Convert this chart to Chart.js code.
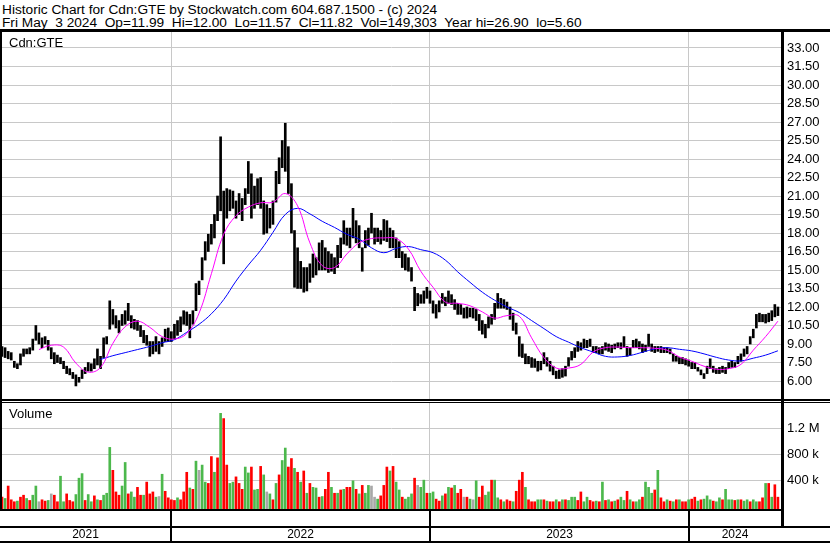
<!DOCTYPE html>
<html>
<head>
<meta charset="utf-8">
<script src="https://cdn.jsdelivr.net/npm/chart.js@4.4.1/dist/chart.umd.min.js"></script>
<style>
  body { margin: 0; background: #fff; font-family: "Liberation Sans", Arial, sans-serif; color: #000; }
  #wrap { position: relative; width: 830px; height: 543px; overflow: hidden; }
  .hdr { position: absolute; left: 2px; font-size: 13.7px; line-height: 13px; white-space: pre; }
  .ln { position: absolute; background: #000; }
  canvas { position: absolute; left: 0; }
  .lbl { position: absolute; left: 9px; font-size: 13px; line-height: 13px; }
  .yr { position: absolute; top: 528px; font-size: 12px; line-height: 13px; text-align: center; }
</style>
</head>
<body>
<div id="wrap">
  <div class="hdr" id="h1" style="top:3px"></div>
  <div class="hdr" id="h2" style="top:16px"></div>
  <canvas id="price" width="830" height="367" style="top:32px"></canvas>
  <canvas id="vol" width="830" height="106" style="top:403px"></canvas>
  <div class="lbl" id="sym" style="top:36px"></div>
  <div class="lbl" style="top:407px">Volume</div>
  <div class="ln" style="left:0;top:29px;width:830px;height:3px"></div>
  <div class="ln" style="left:0;top:32px;width:2px;height:478px"></div>
  <div class="ln" style="left:781px;top:32px;width:3px;height:496px"></div>
  <div class="ln" style="left:0;top:399px;width:830px;height:2px"></div>
  <div class="ln" style="left:0;top:402px;width:830px;height:1px"></div>
  <div class="ln" style="left:0;top:509px;width:781px;height:2px"></div>
  <div class="ln" style="left:0;top:526px;width:830px;height:2px"></div>
  <div class="ln" style="left:0;top:541px;width:830px;height:2px"></div>
  <div id="years"></div>
</div>
<script>
const symbol = 'Cdn:GTE';
const title1 = 'Historic Chart for Cdn:GTE by Stockwatch.com 604.687.1500 - (c) 2024';
const title2 = 'Fri May  3 2024  Op=11.99  Hi=12.00  Lo=11.57  Cl=11.82  Vol=149,303  Year hi=26.90  lo=5.60';

// one sample every 3 trading days, trading day 0 = early May 2021
const step = 3;
const priceHigh = [
  8.8, 8.7, 8.4, 8.3, 7.6, 7.4, 8.2, 8.6, 8.6, 8.7,
  9.4, 10.5, 9.9, 9.5, 9.6, 9.3, 8.7, 8.3, 8.1, 7.9,
  7.6, 7.2, 7.0, 6.7, 6.5, 6.3, 6.9, 7.1, 7.5, 7.4,
  7.8, 8.6, 8.0, 9.5, 9.6, 12.5, 11.8, 11.3, 10.9, 11.4,
  11.7, 12.3, 11.3, 11.0, 10.9, 10.5, 10.1, 9.7, 9.2, 9.2,
  9.6, 9.2, 9.5, 10.2, 10.3, 10.0, 10.6, 10.9, 11.2, 11.7,
  11.6, 11.4, 11.7, 13.9, 14.1, 16.0, 17.3, 17.9, 18.7, 19.5,
  21.0, 25.8, 21.4, 21.6, 21.5, 21.4, 20.6, 21.2, 20.8, 21.6,
  23.8, 22.8, 21.8, 22.4, 22.5, 20.6, 20.3, 20.0, 20.6, 23.0,
  24.1, 25.5, 26.9, 25.0, 22.0, 18.2, 16.8, 15.7, 15.2, 15.2,
  15.5, 16.3, 16.0, 17.2, 17.4, 16.8, 16.5, 16.3, 16.0, 17.0,
  17.6, 19.0, 18.4, 18.4, 20.0, 19.0, 18.6, 16.8, 18.2, 18.4,
  19.6, 18.4, 18.4, 18.2, 19.1, 19.0, 18.4, 18.2, 17.6, 17.3,
  16.5, 16.3, 16.0, 15.2, 13.6, 13.1, 13.0, 13.3, 13.6, 13.3,
  12.5, 12.2, 12.5, 13.1, 12.8, 13.3, 13.0, 12.6, 12.3, 12.2,
  11.9, 12.0, 11.9, 11.9, 11.8, 11.4, 10.9, 10.6, 11.2, 11.4,
  12.3, 13.1, 12.7, 12.6, 12.4, 12.0, 11.5, 10.7, 9.6, 9.0,
  8.2, 8.0, 7.9, 7.8, 7.6, 7.6, 8.3, 7.9, 7.6, 7.2,
  6.8, 6.9, 7.0, 7.2, 7.9, 8.4, 8.7, 9.2, 9.1, 9.4,
  9.3, 9.4, 8.8, 8.8, 8.7, 8.8, 9.1, 9.0, 8.9, 9.0,
  9.1, 9.1, 9.6, 8.8, 8.7, 9.3, 9.4, 9.2, 9.0, 8.9,
  9.8, 9.0, 8.8, 8.8, 8.8, 8.7, 8.7, 8.6, 8.2, 8.0,
  7.9, 7.9, 7.8, 7.7, 7.5, 7.5, 7.1, 6.9, 6.6, 7.2,
  7.8, 7.2, 7.0, 7.1, 7.2, 7.1, 7.5, 7.6, 7.5, 8.0,
  8.2, 8.6, 8.8, 9.6, 10.2, 11.4, 11.5, 11.4, 11.4, 11.5,
  11.7, 12.2, 12.0
];
const priceLow = [
  8.0, 7.9, 7.8, 7.7, 7.1, 7.0, 7.3, 8.0, 8.2, 8.2,
  8.5, 9.3, 9.0, 8.7, 9.0, 8.5, 7.8, 7.4, 7.5, 7.4,
  7.0, 6.6, 6.5, 6.2, 5.6, 5.9, 6.2, 6.6, 6.8, 6.8,
  7.0, 7.3, 7.0, 7.9, 9.0, 10.2, 10.6, 10.3, 9.9, 10.5,
  10.6, 10.9, 10.3, 10.2, 10.1, 9.6, 9.1, 8.9, 8.0, 8.2,
  8.4, 8.2, 8.8, 9.2, 9.2, 9.2, 9.4, 9.7, 10.0, 10.6,
  10.5, 9.5, 10.6, 11.7, 13.0, 14.2, 15.8, 16.5, 17.1, 17.6,
  19.0, 19.8, 15.5, 19.2, 19.8, 20.0, 19.2, 19.5, 19.0, 20.3,
  21.2, 19.2, 20.0, 20.3, 20.0, 17.9, 18.0, 18.4, 18.7, 20.5,
  22.0, 23.3, 23.0, 21.2, 18.0, 13.6, 13.5, 13.5, 13.2, 13.3,
  14.0, 14.4, 14.6, 15.0, 15.0, 15.0, 14.8, 14.9, 14.7, 15.2,
  16.0, 17.1, 17.0, 16.8, 17.6, 17.2, 16.8, 14.9, 16.8, 17.0,
  18.0, 17.1, 17.3, 17.1, 17.4, 17.3, 16.8, 16.8, 16.0, 16.0,
  15.2, 15.0, 14.9, 14.1, 11.7, 12.1, 12.3, 12.3, 12.7, 12.3,
  11.5, 11.1, 11.6, 12.3, 12.1, 12.3, 12.2, 11.8, 11.4, 11.4,
  11.1, 11.1, 11.2, 11.1, 10.9, 10.1, 9.8, 9.5, 10.3, 10.6,
  11.0, 11.9, 11.9, 11.9, 11.8, 11.0, 10.1, 9.8, 8.0, 7.9,
  7.4, 7.4, 7.1, 7.1, 6.8, 6.9, 7.4, 7.2, 6.8, 6.5,
  6.2, 6.2, 6.3, 6.4, 7.2, 7.7, 7.9, 8.4, 8.5, 8.7,
  8.7, 8.8, 8.3, 8.3, 8.2, 8.2, 8.5, 8.4, 8.3, 8.6,
  8.7, 8.6, 8.7, 8.0, 8.1, 8.7, 8.7, 8.6, 8.3, 8.4,
  8.8, 8.4, 8.3, 8.4, 8.3, 8.3, 8.3, 8.2, 7.6, 7.6,
  7.4, 7.4, 7.3, 7.2, 7.0, 7.0, 6.8, 6.5, 6.2, 6.6,
  7.0, 6.7, 6.6, 6.6, 6.7, 6.6, 7.0, 7.1, 7.1, 7.4,
  7.6, 8.0, 8.2, 9.0, 9.5, 10.3, 10.8, 10.8, 10.7, 10.8,
  10.9, 11.2, 11.3
];
// volume in thousands of shares, with day direction (r = down, g = up, n = unchanged)
const volume = [
  150, 130, 320, 110, 80, 90, 150, 180, 130, 100,
  180, 320, 80, 110, 90, 100, 200, 180, 80, 470,
  80, 200, 100, 80, 190, 440, 510, 100, 190, 80,
  170, 110, 100, 180, 210, 910, 560, 230, 180, 320,
  680, 200, 230, 150, 300, 180, 180, 380, 200, 230,
  150, 160, 500, 240, 140, 110, 100, 140, 110, 230,
  530, 290, 270, 700, 560, 640, 380, 360, 770, 530,
  750, 1430, 1350, 640, 360, 380, 460, 360, 270, 610,
  520, 610, 260, 270, 620, 490, 230, 200, 110, 360,
  490, 710, 900, 610, 740, 590, 530, 380, 550, 210,
  360, 300, 290, 150, 160, 270, 530, 300, 210, 210,
  260, 270, 300, 300, 400, 270, 200, 330, 210, 330,
  320, 150, 120, 170, 330, 610, 550, 620, 380, 260,
  150, 120, 150, 200, 440, 330, 300, 410, 210, 210,
  230, 120, 90, 170, 200, 300, 290, 330, 210, 270,
  150, 150, 120, 110, 400, 150, 320, 180, 230, 410,
  410, 140, 110, 80, 110, 90, 80, 240, 410, 530,
  300, 110, 80, 80, 110, 110, 110, 90, 80, 80,
  110, 80, 110, 110, 100, 150, 150, 100, 230, 80,
  150, 100, 80, 90, 80, 380, 100, 110, 80, 90,
  110, 150, 100, 240, 110, 80, 80, 110, 150, 380,
  300, 210, 260, 560, 140, 80, 110, 90, 80, 110,
  110, 80, 80, 110, 120, 150, 90, 110, 120, 170,
  110, 90, 80, 140, 110, 270, 110, 110, 100, 110,
  110, 90, 110, 80, 110, 80, 80, 140, 360, 360,
  150, 340, 150
];
const volDir =
  'rgrrrgrrgr' + 'ggnrrgnrrg' + 'grrrgggrgg' + 'rgrgggrrrg' + 'grggrrgrrr' +
  'gngrrrrgrr' + 'rgrgnggrrg' + 'rgrrggrrrg' + 'grggrgngrg' + 'rggrrgrgrg' +
  'rggrgrrgrg' + 'rgrrgrgrgg' + 'nngrrrgrgg' + 'rgggrnggrg' + 'grrgrgrgrr' +
  'nrgngrrggr' + 'ggrgrrgrrr' + 'grrrggrgrr' + 'grgrgggrrg' + 'grrgrgrgrg' +
  'rggrgrggrg' + 'ggrgrrgrgr' + 'grrgrrgrgg' + 'grggrgggrg' + 'rggrggrrgr' +
  'grr';

// moving averages, one point every 12 trading days
const maStep = 12;
const maFast = [
  null, null, null, 8.55, 8.9, 8.75, 7.45, 6.72, 7.1, 9.05,
  10.4, 10.85, 10.35, 9.6, 9.4, 9.85, 11.5, 14.7, 17.9, 19.4,
  20.1, 20.45, 20.5, 21.2, 20.2, 17.2, 15.35, 15.2, 16.3, 17.2,
  17.55, 17.6, 17.55, 16.7, 14.9, 13.6, 12.4, 12.3, 12.1, 11.6,
  11.1, 11.3, 11.25, 9.5, 7.9, 7.05, 7.05, 7.35, 8.35, 8.7,
  8.75, 8.7, 8.7, 8.65, 8.5, 7.95, 7.6, 7.2, 6.95, 7.0,
  7.35, 8.5, 9.6, 10.85
];
const maSlow = [
  null, null, null, null, null, null, null, null, 7.75, 8.05,
  8.3, 8.55, 8.8, 9.1, 9.35, 9.95, 10.6, 11.45, 12.6, 14.1,
  15.4, 16.6, 18.05, 19.5, 20.0, 19.55, 18.95, 18.45, 17.9, 17.5,
  16.8, 16.4, 16.75, 16.9, 16.65, 16.4, 15.8, 14.85, 14.0, 13.2,
  12.55, 12.0, 11.55, 10.9, 10.25, 9.6, 9.15, 8.7, 8.35, 8.0,
  7.95, 8.07, 8.33, 8.6, 8.7, 8.57, 8.44, 8.2, 7.92, 7.7,
  7.63, 7.85, 8.1, 8.45
];

const priceTicks = [6, 7.5, 9, 10.5, 12, 13.5, 15, 16.5, 18, 19.5, 21, 22.5, 24, 25.5, 27, 28.5, 30, 31.5, 33];
const volTicks = [400, 800, 1200];
const volTickLabels = ['400 k', '800 k', '1.2 M'];
const yearLabels = ['2021', '2022', '2023', '2024'];
const yearStart = [165, 417, 669]; // trading-day index of first session of 2022, 2023, 2024
const dayMax = 759;

document.getElementById('h1').textContent = title1;
document.getElementById('h2').textContent = title2;
document.getElementById('sym').textContent = symbol;

const FONT = { family: '"Liberation Sans", Arial, sans-serif', size: 13 };
const GRID = '#c8c8c8';
const colorOf = { r: '#ff0000', g: '#4cb84c', n: '#a8a8a8' };

const barPts = priceHigh.map((h, i) => ({ x: i * step, y: [priceLow[i], h] }));
const fastPts = maFast.map((v, k) => ({ x: k * maStep, y: v }));
const slowPts = maSlow.map((v, k) => ({ x: k * maStep, y: v }));
const volPts = volume.map((v, i) => ({ x: i * step, y: v }));
const volColors = volume.map((v, i) => colorOf[volDir[i]] || colorOf.n);

function xScale() {
  return {
    type: 'linear', min: 0, max: dayMax, offset: false,
    grid: { color: GRID, drawTicks: false, offset: false },
    border: { display: false },
    ticks: { display: false },
    afterBuildTicks: s => { s.ticks = yearStart.map(v => ({ value: v })); },
    afterFit: s => { s.height = 0; }
  };
}
function yScale(min, max, ticks, fmt) {
  return {
    position: 'right', min: min, max: max,
    grid: { color: GRID, drawTicks: false },
    border: { display: false },
    ticks: { padding: 6, color: '#000', font: FONT, autoSkip: false, callback: fmt },
    afterBuildTicks: s => { s.ticks = ticks.map(v => ({ value: v })); },
    afterFit: s => { s.width = 49; s.paddingTop = 0; s.paddingBottom = 0; }
  };
}
const common = {
  responsive: false, animation: false, events: [],
  layout: { padding: { left: 2, right: 0, top: 0, bottom: 0 }, autoPadding: false },
  plugins: { legend: { display: false }, tooltip: { enabled: false } }
};

// set the value range so two known gridlines land where the original draws them
function anchorRange(chart, canvasTop, v1, y1, v2, y2) {
  const a = chart.chartArea;
  const per = (v2 - v1) / (y2 - y1);
  chart.options.scales.y.min = v1 + (canvasTop + a.bottom - y1) * per;
  chart.options.scales.y.max = v1 + (canvasTop + a.top - y1) * per;
  chart.update();
}

const priceChart = new Chart(document.getElementById('price'), {
  type: 'bar',
  data: {
    datasets: [
      { type: 'line', data: fastPts, borderColor: '#ff00ff', borderWidth: 1, pointRadius: 0, tension: 0.4 },
      { type: 'line', data: slowPts, borderColor: '#0000ff', borderWidth: 1, pointRadius: 0, tension: 0.4 },
      { type: 'bar', data: barPts, backgroundColor: '#000', barThickness: 2, borderSkipped: false }
    ]
  },
  options: Object.assign({}, common, {
    scales: {
      x: xScale(),
      y: yScale(4.5, 34.3, priceTicks, v => Number(v).toFixed(2))
    }
  })
});
anchorRange(priceChart, 32, 6, 381, 33, 48);

const volChart = new Chart(document.getElementById('vol'), {
  type: 'bar',
  data: {
    datasets: [{ data: volPts, backgroundColor: volColors, barThickness: 2, base: -80 }]
  },
  options: Object.assign({}, common, {
    scales: {
      x: xScale(),
      y: yScale(-40, 1600, volTicks, v => volTickLabels[volTicks.indexOf(v)] || '')
    }
  })
});
anchorRange(volChart, 403, 0, 507, 1200, 428.4);

// year strip under the volume panel, positioned from the chart's own x scale
const xs = volChart.scales.x;
const edges = [0].concat(yearStart.map(v => Math.round(xs.getPixelForValue(v))), [781]);
const yb = document.getElementById('years');
for (let i = 1; i < edges.length - 1; i++) {
  const d = document.createElement('div');
  d.className = 'ln';
  d.style.cssText = 'left:' + (edges[i] - 1) + 'px;top:511px;width:2px;height:30px';
  yb.appendChild(d);
}
yearLabels.forEach((t, i) => {
  const d = document.createElement('div');
  d.className = 'yr';
  d.style.left = edges[i] + 'px';
  d.style.width = (edges[i + 1] - edges[i]) + 'px';
  d.textContent = t;
  yb.appendChild(d);
});
</script>
</body>
</html>
